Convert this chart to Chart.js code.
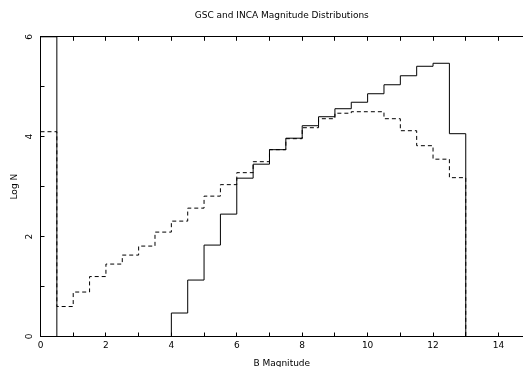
<!DOCTYPE html>
<html>
<head>
<meta charset="utf-8">
<script src="https://cdn.jsdelivr.net/npm/chart.js@4/dist/chart.umd.min.js"></script>
<style>
  body { margin: 0; background: #fff; }
  canvas { display: block; }
</style>
</head>
<body>
<canvas id="chart" width="523" height="367"></canvas>
<script>
// bin edges in B magnitude (0.5 mag bins)
const binEdges = [0, 0.5, 1, 1.5, 2, 2.5, 3, 3.5, 4, 4.5, 5, 5.5, 6, 6.5, 7, 7.5,
    8, 8.5, 9, 9.5, 10, 10.5, 11, 11.5, 12, 12.5, 13, 13.5, 14, 14.5, 15];

// log N per bin
const gscLogN = [6, 0, 0, 0, 0, 0, 0, 0, 0.47, 1.13, 1.83, 2.45, 3.17, 3.45, 3.74, 3.97,
    4.22, 4.40, 4.56, 4.69, 4.86, 5.04, 5.22, 5.41, 5.47, 4.06, 0, 0, 0, 0];
const incaLogN = [4.10, 0.60, 0.89, 1.20, 1.45, 1.63, 1.81, 2.09, 2.31, 2.57, 2.81, 3.04, 3.28, 3.50, 3.74, 3.96,
    4.18, 4.36, 4.47, 4.50, 4.50, 4.36, 4.12, 3.82, 3.55, 3.18, 0, 0, 0, 0];

const xTicks = [0, 2, 4, 6, 8, 10, 12, 14];
const yTicks = [0, 2, 4, 6];

const fontFamily = "'DejaVu Sans', sans-serif";

function toSteps(values) {
    const pts = values.map((v, i) => ({ x: binEdges[i], y: v }));
    // close the last bin at its right edge
    pts.push({ x: binEdges[values.length], y: values[values.length - 1] });
    return pts;
}

function evenOnly(list) {
    return function (value) {
        return list.includes(value) ? value : '';
    };
}

const ctx = document.getElementById("chart").getContext("2d");

new Chart(ctx, {
    type: 'line',
    data: {
        datasets: [{
            label: 'INCA',
            data: toSteps(incaLogN),
            stepped: 'before',
            borderColor: '#000',
            borderWidth: 1,
            borderDash: [4, 3],
            pointRadius: 0,
            fill: false,
            order: 2
        }, {
            label: 'GSC',
            data: toSteps(gscLogN),
            stepped: 'before',
            borderColor: '#000',
            borderWidth: 1,
            pointRadius: 0,
            fill: false,
            order: 1
        }]
    },
    options: {
        responsive: false,
        animation: false,
        devicePixelRatio: 1,
        layout: { padding: 0 },
        plugins: {
            legend: { display: false },
            tooltip: { enabled: false },
            title: {
                display: true,
                text: 'GSC and INCA Magnitude Distributions',
                fullSize: false,
                color: '#000',
                font: { family: fontFamily, size: 9, weight: 'normal' },
                padding: { top: 10, bottom: 16 }
            }
        },
        scales: {
            x: {
                type: 'linear',
                position: 'bottom',
                min: 0,
                max: 14.75,
                afterFit: scale => { scale.height = 30.5; },
                border: { color: '#000', width: 1 },
                grid: { drawOnChartArea: false, color: '#000', tickLength: -4 },
                ticks: {
                    stepSize: 1,
                    includeBounds: false,
                    autoSkip: false,
                    maxRotation: 0,
                    padding: 8,
                    color: '#000',
                    font: { family: fontFamily, size: 9 },
                    callback: evenOnly(xTicks)
                },
                title: {
                    display: true,
                    text: 'B Magnitude',
                    color: '#000',
                    font: { family: fontFamily, size: 9 },
                    padding: { top: 0, bottom: -2 }
                }
            },
            x2: {
                type: 'linear',
                position: 'top',
                min: 0,
                max: 14.75,
                afterFit: scale => { scale.height = 0; },
                border: { color: '#000', width: 1 },
                grid: { drawOnChartArea: false, color: '#000', tickLength: -4 },
                ticks: { stepSize: 1, includeBounds: false, display: false }
            },
            y: {
                min: 0,
                max: 6,
                afterFit: scale => { scale.width = 40.5; },
                border: { color: '#000', width: 1 },
                grid: { drawOnChartArea: false, color: '#000', tickLength: -4 },
                ticks: {
                    stepSize: 1,
                    autoSkip: false,
                    minRotation: 90,
                    maxRotation: 90,
                    crossAlign: 'center',
                    padding: 12,
                    color: '#000',
                    font: { family: fontFamily, size: 9 },
                    callback: evenOnly(yTicks)
                },
                title: {
                    display: true,
                    text: 'Log N',
                    color: '#000',
                    font: { family: fontFamily, size: 9 },
                    padding: { top: 9, bottom: 0 }
                }
            }
        }
    }
});
</script>
</body>
</html>
